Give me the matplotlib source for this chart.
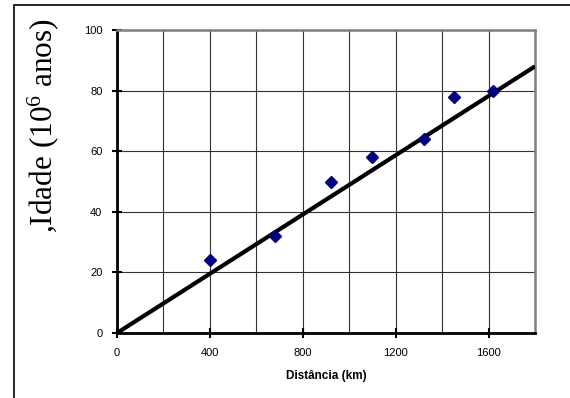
import numpy as np
import matplotlib
matplotlib.use("Agg")
import matplotlib.pyplot as plt
from matplotlib.patches import Rectangle
from matplotlib.ticker import MultipleLocator

plt.rcParams['mathtext.default'] = 'regular'

# data
distancia = [400, 680, 920, 1100, 1320, 1450, 1620]
idade = [24, 32, 50, 58, 64, 78, 80]
reta_x = [0, 1800]
reta_y = [0, 88]

fig = plt.figure(figsize=(5.7, 3.98), dpi=100)
ax = fig.add_axes([117 / 570, 65 / 398, 418 / 570, 303 / 398])

# outer frame (cut at right and bottom, as in the original)
fig.patches.append(Rectangle((14 / 570, -0.05), 1.2, (398 - 5) / 398 + 0.05,
                             transform=fig.transFigure, fill=False,
                             edgecolor='black', linewidth=1.2))

ax.plot(reta_x, reta_y, color='black', linewidth=3, solid_capstyle='butt', zorder=3)
ax.plot(distancia, idade, linestyle='none', marker='D', markersize=6.5,
        color='#000080', zorder=4)

ax.set_xlim(0, 1800)
ax.set_ylim(0, 100)
ax.xaxis.set_major_locator(MultipleLocator(400))
ax.xaxis.set_minor_locator(MultipleLocator(200))
ax.yaxis.set_major_locator(MultipleLocator(20))
ax.grid(True, which='both', color='#333333', linewidth=0.8)
ax.set_axisbelow(True)

for s in ['left', 'bottom']:
    ax.spines[s].set_linewidth(2)
    ax.spines[s].set_color('black')
for s in ['top', 'right']:
    ax.spines[s].set_linewidth(1.8)
    ax.spines[s].set_color('#808080')

ax.tick_params(which='major', direction='inout', length=7, width=1.5,
               labelsize=8, pad=7)
ax.tick_params(which='minor', length=0)
for lab in ax.get_xticklabels() + ax.get_yticklabels():
    lab.set_family('Liberation Sans')

ax.set_xlabel('Distância (km)', fontsize=8.5, fontweight='bold',
              family='Liberation Sans', labelpad=9)
ax.set_ylabel(',Idade (10$^{6}$ anos)', fontsize=22.5, family='Liberation Serif')
ax.yaxis.set_label_coords(-0.135, 0.686)

fig.savefig('out.png', dpi=100)
